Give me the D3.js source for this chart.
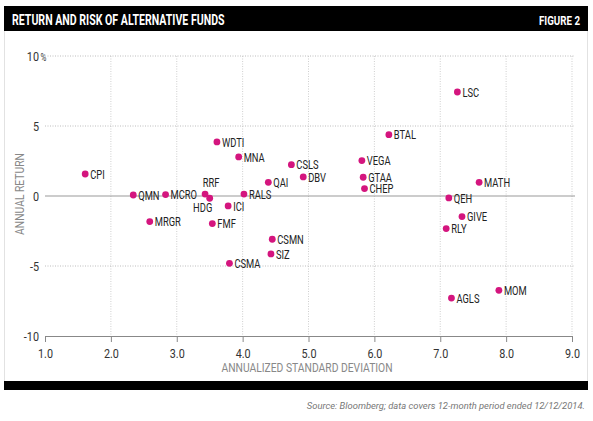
<!DOCTYPE html>
<html><head><meta charset="utf-8">
<script src="https://cdn.jsdelivr.net/npm/d3@7"></script>
<style>
body{margin:0;background:#fff;}
svg text{font-family:Roboto,"Noto Sans",sans-serif;}
</style></head>
<body><svg id="c" width="593" height="421"></svg>
<script>
const funds = ["CPI","WDTI","MNA","QAI","QMN","MCRO","RRF","HDG","RALS","ICI","CSLS","DBV","VEGA","GTAA","CHEP","BTAL","LSC","MATH","QEH","GIVE","RLY","MOM","AGLS","MRGR","FMF","CSMN","SIZ","CSMA"];
const stdDev = [1.61,3.61,3.94,4.39,2.34,2.83,3.43,3.50,4.02,3.78,4.74,4.92,5.81,5.83,5.85,6.22,7.26,7.59,7.13,7.33,7.09,7.89,7.17,2.59,3.54,4.45,4.43,3.80];
const annReturn = [1.57,3.86,2.79,0.98,0.07,0.10,0.14,-0.16,0.14,-0.71,2.24,1.36,2.53,1.34,0.53,4.38,7.43,0.98,-0.14,-1.47,-2.33,-6.74,-7.29,-1.83,-1.97,-3.09,-4.14,-4.81];
const labelSide = {"RRF":"above","HDG":"below"};
const xTicks = [1,2,3,4,5,6,7,8,9];
const yTicks = [-10,-5,0,5,10];
const title = "RETURN AND RISK OF ALTERNATIVE FUNDS";
const figure = "FIGURE 2";
const xTitle = "ANNUALIZED STANDARD DEVIATION";
const yTitle = "ANNUAL RETURN";
const source = "Source: Bloomberg; data covers 12-month period ended 12/12/2014.";

const svg = d3.select("#c");
const x = d3.scaleLinear().domain([1,9]).range([45,572]);
const y = d3.scaleLinear().domain([-10,10]).range([336,56]);

// condensed text helper: places text at (px,py) with horizontal squeeze
function ctext(parent, px, py, str, sx, rot){
  return parent.append("text")
    .attr("transform",`translate(${px},${py})${rot?` rotate(${rot})`:""} scale(${sx},1)`)
    .text(str);
}

// frame
svg.append("rect").attr("x",4.5).attr("y",30).attr("width",583).attr("height",352).attr("fill","#fff").attr("stroke","#e2e2e2");
svg.append("rect").attr("x",4).attr("y",6).attr("width",584).attr("height",25).attr("fill","#000");
svg.append("rect").attr("x",4).attr("y",381).attr("width",584).attr("height",9).attr("fill","#000");
ctext(svg,12,24.5,title,0.73).attr("fill","#fff").attr("font-size",14.5).attr("font-weight","bold");
ctext(svg,580,24.5,figure,0.75).attr("text-anchor","end").attr("fill","#fff").attr("font-size",13).attr("font-weight","bold");
ctext(svg,585,409,source,0.99).attr("text-anchor","end").attr("fill","#777").attr("font-size",9.5).attr("font-style","italic");

// grid
const g = svg.append("g");
g.selectAll(".vg").data(xTicks.slice(1)).join("line")
  .attr("x1",d=>x(d)).attr("x2",d=>x(d)).attr("y1",y(10)).attr("y2",y(-10))
  .attr("stroke","#cfcfcf").attr("stroke-dasharray","1,1.5");
g.selectAll(".hg").data(yTicks.filter(d=>d!==0&&d!==-10)).join("line")
  .attr("x1",x(1)).attr("x2",575).attr("y1",d=>y(d)).attr("y2",d=>y(d))
  .attr("stroke","#bdbdbd").attr("stroke-dasharray","1,1.5");
g.append("line").attr("x1",x(1)).attr("x2",575).attr("y1",y(0)).attr("y2",y(0)).attr("stroke","#999");

// x axis
const xa = svg.append("g").attr("transform",`translate(0,${y(-10)})`)
  .call(d3.axisBottom(x).tickValues(xTicks).tickFormat(()=>"").tickSize(6).tickSizeOuter(0));
xa.select(".domain").attr("stroke","#888");
xa.selectAll(".tick line").attr("stroke","#888");
xa.selectAll(".tick text").remove();
xa.selectAll(".tick").each(function(d){
  ctext(d3.select(this),0,22,d3.format(".1f")(d),0.8).attr("text-anchor","middle").attr("font-size",13.5).attr("fill","#333");
});

// y axis labels
const ya = svg.append("g").attr("transform","translate(39,0)")
  .call(d3.axisLeft(y).tickValues(yTicks).tickFormat(()=>"").tickSize(0));
ya.select(".domain").remove();
ya.selectAll(".tick text").remove();
ya.selectAll(".tick").each(function(d){
  const t = d3.select(this);
  ctext(t,0,4.5,String(d),0.8).attr("text-anchor","end").attr("font-size",13.5).attr("fill","#333");
  if(d===10) ctext(t,1.5,4.5,"%",0.8).attr("text-anchor","start").attr("font-size",10).attr("fill","#333");
});

// axis titles
ctext(svg,307,372,xTitle,0.86).attr("text-anchor","middle").attr("fill","#888").attr("font-size",12);
ctext(svg,24,194,yTitle,0.86,-90).attr("text-anchor","middle").attr("fill","#888").attr("font-size",12);

// points
const data = funds.map((f,i)=>({f,sd:stdDev[i],r:annReturn[i]}));
svg.append("g").selectAll("circle").data(data).join("circle")
  .attr("cx",d=>x(d.sd)).attr("cy",d=>y(d.r)).attr("r",3.4).attr("fill","#d4157e");
const lg = svg.append("g");
data.forEach(d=>{
  const s = labelSide[d.f];
  const px = s==="above"?x(d.sd)+6:s==="below"?x(d.sd)-7:x(d.sd)+5;
  const py = s==="above"?y(d.r)-7:s==="below"?y(d.r)+14:y(d.r)+4.6;
  ctext(lg,px,py,d.f,0.72).attr("text-anchor",s?"middle":"start").attr("font-size",13).attr("fill","#222");
});
</script></body></html>
